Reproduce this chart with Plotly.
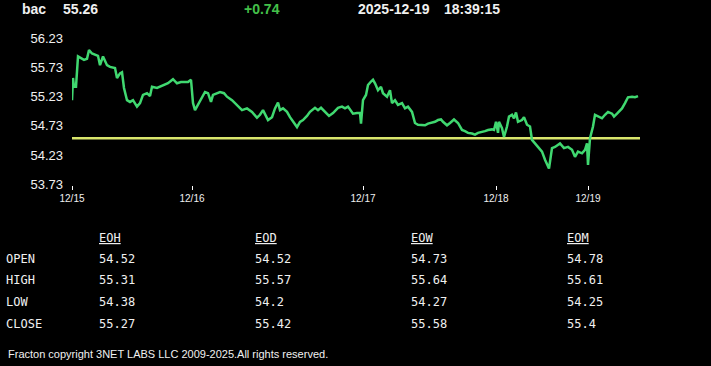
import plotly.graph_objects as go

# ---------------- data ----------------
symbol = "bac"
last_price = 55.26
change = 0.74
date_str = "2025-12-19"
time_str = "18:39:15"
prev_close = 54.52

idx = [0, 1, 2, 4, 6, 8, 12, 15, 17, 20, 24, 26, 28, 31, 35, 38, 43, 45, 48, 50,
       52, 55, 58, 61, 65, 68, 71, 75, 78, 80, 85, 88, 93,
       96, 101, 105, 109, 116, 119, 121, 123, 126, 130, 133, 136, 139, 141, 145, 148,
       152, 155, 160, 165, 170, 175, 180, 185,
       188, 191, 193, 196, 200, 203, 206, 208, 211, 215, 218, 221, 225, 228, 231, 235,
       238, 243, 246, 249, 253, 257, 261, 266, 270, 273, 276, 281,
       285, 288, 289, 291, 294, 296, 299, 301, 303, 306, 309, 311, 315, 318, 320, 323,
       326, 330, 333, 336, 340, 343, 346, 350, 353, 356, 360, 363, 366, 369, 371, 375,
       378, 382, 386, 390, 393, 396, 400, 403, 406, 410, 413, 416, 420, 422, 424, 426,
       427, 430, 432, 435, 437, 440, 442, 444, 446, 450, 452, 455, 458, 460, 463, 466,
       470, 473, 477, 480, 483, 488, 492, 496, 500, 503, 506, 510, 513, 515, 516, 518,
       521, 523, 526, 530, 533, 536, 540, 542, 545, 550, 553, 556, 560, 563, 566]
price = [55.17, 55.55, 55.40, 55.40, 55.92, 55.90, 55.86, 55.88, 56.03, 55.97, 55.95,
         55.93, 55.77, 55.92, 55.77, 55.74, 55.72, 55.55, 55.63, 55.65,
         55.38, 55.17, 55.14, 55.17, 55.06, 55.12, 55.26, 55.29, 55.24, 55.40, 55.38,
         55.40, 55.43,
         55.46, 55.53, 55.46, 55.48, 55.48, 55.52, 55.12, 55.00, 55.09, 55.21, 55.31,
         55.29, 55.14, 55.26, 55.29, 55.31,
         55.29, 55.23, 55.17, 55.09, 55.00, 55.03, 54.97, 54.87,
         54.92, 55.00, 54.94, 54.83, 54.88, 55.03, 55.13, 55.00, 55.03, 54.97, 54.88,
         54.80, 54.71, 54.80, 54.83, 54.90,
         54.97, 55.04, 55.00, 55.04, 54.97, 54.90, 54.95, 55.04, 55.06, 55.03, 55.06,
         54.94,
         54.95, 54.95, 54.77, 55.17, 55.26, 55.43, 55.49, 55.52, 55.46, 55.34, 55.40,
         55.29, 55.23, 55.34, 55.12, 55.17,
         55.09, 55.12, 55.03, 55.06, 54.97, 54.78, 54.75, 54.75, 54.74, 54.77, 54.78,
         54.80, 54.83, 54.84, 54.80, 54.74,
         54.78, 54.84, 54.78, 54.66, 54.64, 54.61, 54.60, 54.58, 54.61, 54.62, 54.64,
         54.66, 54.67, 54.66, 54.80, 54.61,
         54.80, 54.69, 54.54, 54.72, 54.89, 54.92, 54.86, 54.96, 54.80, 54.83, 54.88,
         54.75, 54.72, 54.49, 54.43, 54.38,
         54.29, 54.15, 54.00, 54.35, 54.37, 54.43, 54.35, 54.37, 54.32, 54.20, 54.29,
         54.26, 54.32, 54.43, 54.06, 54.52,
         54.72, 54.92, 54.89, 54.86, 54.92, 54.97, 54.94, 54.89, 54.94, 55.03, 55.12,
         55.22, 55.23, 55.22, 55.24]

tick_idx = [0, 120, 291, 424, 516]
tick_text = ["12/15", "12/16", "12/17", "12/18", "12/19"]
y_ticks = [53.73, 54.23, 54.73, 55.23, 55.73, 56.23]

periods = ["EOH", "EOD", "EOW", "EOM"]
row_names = ["OPEN", "HIGH", "LOW", "CLOSE"]
open_vals = [54.52, 54.52, 54.73, 54.78]
high_vals = [55.31, 55.57, 55.64, 55.61]
low_vals = [54.38, 54.2, 54.27, 54.25]
close_vals = [55.27, 55.42, 55.58, 55.4]

footer = "Fracton copyright 3NET LABS LLC 2009-2025.All rights reserved."

# ---------------- layout geometry ----------------
W, H = 711, 366
L, R, T, B = 72, 71, 38, 181
PW, PH = W - L - R, H - T - B


def fx(X):
    return (X - L) / PW


def fy(Y):
    return (H - B - Y) / PH


GREEN = "#40d870"
YELLOW = "#d9e66c"
TXT = "#f0f0f0"
SANS = "Liberation Sans, Arial, sans-serif"
MONO = "DejaVu Sans Mono, monospace"

fig = go.Figure()
fig.add_trace(go.Scatter(x=idx, y=price, mode="lines",
                         line=dict(color=GREEN, width=2.5), hoverinfo="skip"))
fig.add_hline(y=prev_close, line=dict(color=YELLOW, width=2.5), layer="below")

ann = []


def text(X, Y, s, size, color=TXT, family=SANS, anchor="left", weight="normal", under=False):
    font = dict(size=size, color=color, family=family, weight=weight)
    if under:
        font["lineposition"] = "under"
    ann.append(dict(x=fx(X), y=fy(Y), xref="paper", yref="paper", text=s,
                    showarrow=False, xanchor=anchor, yanchor="middle", font=font,
                    borderpad=0, borderwidth=0))


# header
text(22, 9, symbol, 14, weight="bold")
text(63, 9, f"{last_price:.2f}", 14, weight="bold")
text(244, 9, f"{change:+.2f}", 14, color="#44c04a", weight="bold")
text(358, 9, date_str, 14, weight="bold")
text(444, 9, time_str, 14, weight="bold")

# table
col_x = [99, 255, 411, 567]
row_y = [259, 280, 302, 324]
for c, p in enumerate(periods):
    text(col_x[c], 238, p, 12, family=MONO, under=True)
for r, name in enumerate(row_names):
    text(6, row_y[r], name, 12, family=MONO)
for c in range(4):
    for r, vals in enumerate([open_vals, high_vals, low_vals, close_vals]):
        text(col_x[c], row_y[r], str(vals[c]), 12, family=MONO)

# footer
text(8, 354, footer, 11)

fig.update_layout(
    width=W, height=H,
    margin=dict(l=L, r=R, t=T, b=B, pad=0),
    paper_bgcolor="black", plot_bgcolor="black",
    showlegend=False,
    hovermode=False,
    annotations=ann,
    xaxis=dict(range=[0, PW], showgrid=False, zeroline=False, showline=False,
               tickmode="array", tickvals=tick_idx, ticktext=tick_text,
               ticks="outside", ticklen=4, tickwidth=1, tickcolor="white",
               tickfont=dict(size=10, color=TXT, family=SANS)),
    yaxis=dict(range=[53.718, 56.235], showgrid=False, zeroline=False, showline=False,
               tickmode="array", tickvals=y_ticks, tickformat=".2f",
               ticks="", ticklabelstandoff=8,
               tickfont=dict(size=13, color=TXT, family=SANS)),
)

fig.write_html("out.html", config={"displayModeBar": False, "staticPlot": True},
               post_script="document.body.style.margin='0';document.body.style.background='black';")
